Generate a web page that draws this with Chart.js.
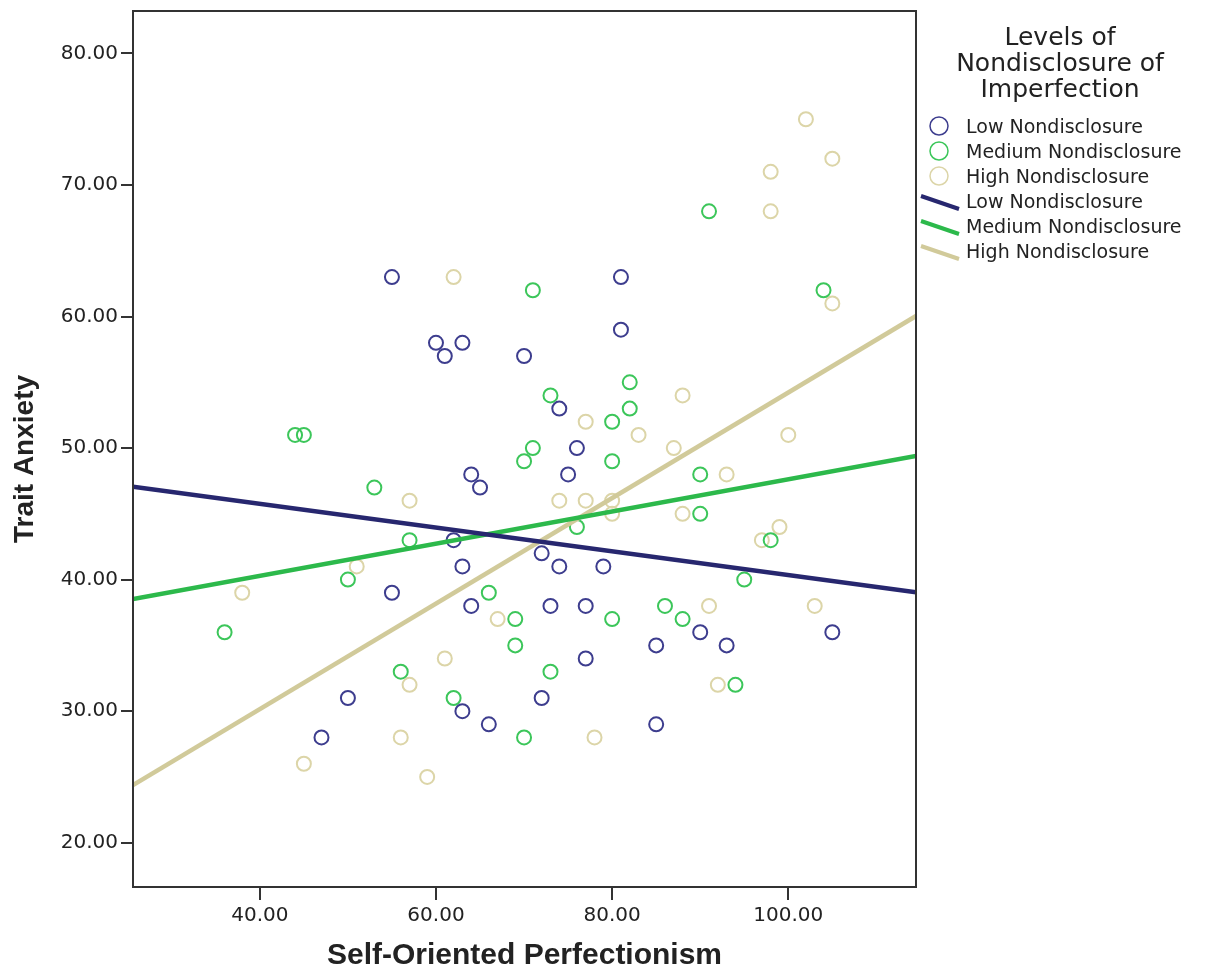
<!DOCTYPE html>
<html>
<head>
<meta charset="utf-8">
<script src="https://cdn.jsdelivr.net/npm/chart.js@4.4.1/dist/chart.umd.min.js"></script>
<style>
html, body { margin: 0; padding: 0; background: #fff; }
#wrap { width: 1211px; height: 974px; }
</style>
</head>
<body>
<div id="wrap"><canvas id="chart" width="1211" height="974"></canvas></div>
<script>
// series names and legend title
const seriesNames = ['Low Nondisclosure', 'Medium Nondisclosure', 'High Nondisclosure'];
const legendTitle = ['Levels of', 'Nondisclosure of', 'Imperfection'];
const xTitle = 'Self-Oriented Perfectionism';
const yTitle = 'Trait Anxiety';

// axis ticks
const xTicks = [40, 60, 80, 100];
const yTicks = [20, 30, 40, 50, 60, 70, 80];

// scatter points (x = self-oriented perfectionism, y = trait anxiety)
const lowX = [55, 60, 61, 63, 70, 81, 81, 74, 76, 75, 64, 65, 62, 72, 63, 74, 79, 55, 64, 73, 77, 77, 50, 47, 63, 66, 72, 85, 90, 93, 105, 85];
const lowY = [63, 58, 57, 58, 57, 63, 59, 53, 50, 48, 48, 47, 43, 42, 41, 41, 41, 39, 38, 38, 38, 34, 31, 28, 30, 29, 31, 35, 36, 35, 36, 29];

const medX = [71, 91, 104, 82, 73, 82, 80, 71, 70, 80, 90, 44, 45, 53, 57, 50, 66, 76, 90, 98, 95, 86, 80, 88, 69, 36, 69, 56, 73, 62, 70, 94];
const medY = [62, 68, 62, 55, 54, 53, 52, 50, 49, 49, 48, 51, 51, 47, 43, 40, 39, 44, 45, 43, 40, 38, 37, 37, 37, 36, 35, 33, 33, 31, 28, 32];

const highX = [102, 105, 98, 98, 62, 105, 88, 77, 83, 100, 87, 93, 57, 74, 77, 80, 80, 88, 99, 97, 51, 38, 91, 103, 67, 61, 57, 92, 56, 78, 45, 59];
const highY = [75, 72, 71, 68, 63, 61, 54, 52, 51, 51, 50, 48, 46, 46, 46, 46, 45, 45, 44, 43, 41, 39, 38, 38, 37, 34, 32, 32, 28, 28, 26, 25];

// fit lines, read at the two edges of the x range
const xRange = [25.6, 114.5];
const yRange = [16.63, 83.23];
const lowFit = [47.06, 39.03];
const medFit = [38.52, 49.41];
const highFit = [24.37, 60.04];

const pointColors = ['#3d3d8e', '#3cc65a', '#dcd5a8'];
const lineColors = ['#27276f', '#2cb94b', '#d1ca9a'];

function toPoints(xs, ys) {
    return xs.map((x, i) => ({ x: x, y: ys[i] }));
}

const scatterSets = [[lowX, lowY], [medX, medY], [highX, highY]].map((s, i) => ({
    type: 'scatter',
    label: seriesNames[i],
    data: toPoints(s[0], s[1]),
    borderColor: pointColors[i],
    backgroundColor: 'rgba(0,0,0,0)',
    pointRadius: 7,
    pointBorderWidth: 2,
    pointHoverRadius: 7,
    order: 2
}));

const lineSets = [lowFit, medFit, highFit].map((f, i) => ({
    type: 'line',
    label: seriesNames[i],
    data: toPoints(xRange, f),
    borderColor: lineColors[i],
    borderWidth: 4.5,
    pointRadius: 0,
    fill: false,
    order: 1
}));

const textColor = '#222';

// box around the plot, y title and the legend on the right
const framePlugin = {
    id: 'frame',
    afterDraw(chart) {
        const ctx = chart.ctx;
        const a = chart.chartArea;
        ctx.save();
        ctx.strokeStyle = '#333';
        ctx.lineWidth = 2;
        ctx.strokeRect(a.left, a.top, a.right - a.left, a.bottom - a.top);

        // y axis title
        ctx.save();
        ctx.translate(25, 459);
        ctx.rotate(-Math.PI / 2);
        ctx.fillStyle = textColor;
        ctx.font = 'bold 28px "Liberation Sans"';
        ctx.textAlign = 'center';
        ctx.textBaseline = 'middle';
        ctx.fillText(yTitle, 0, 0);
        ctx.restore();

        // legend title
        ctx.fillStyle = textColor;
        ctx.font = '25px "DejaVu Sans"';
        ctx.textAlign = 'center';
        ctx.textBaseline = 'middle';
        legendTitle.forEach((t, i) => ctx.fillText(t, 1060, 38 + i * 26));

        ctx.font = '19px "DejaVu Sans"';
        ctx.textAlign = 'left';
        let y = 128;
        seriesNames.forEach((name, i) => {
            ctx.beginPath();
            ctx.arc(939, y - 2, 9, 0, Math.PI * 2);
            ctx.strokeStyle = pointColors[i];
            ctx.lineWidth = 1.5;
            ctx.stroke();
            ctx.fillText(name, 966, y);
            y += 25;
        });
        seriesNames.forEach((name, i) => {
            ctx.beginPath();
            ctx.moveTo(921, y - 7);
            ctx.lineTo(959, y + 6);
            ctx.strokeStyle = lineColors[i];
            ctx.lineWidth = 4;
            ctx.stroke();
            ctx.fillText(name, 966, y);
            y += 25;
        });
        ctx.restore();
    }
};

new Chart(document.getElementById('chart'), {
    data: { datasets: scatterSets.concat(lineSets) },
    options: {
        responsive: false,
        animation: false,
        devicePixelRatio: 1,
        layout: { padding: { top: 11, right: 295, left: 0, bottom: 0 } },
        plugins: { legend: { display: false }, tooltip: { enabled: false } },
        scales: {
            x: {
                type: 'linear',
                min: xRange[0],
                max: xRange[1],
                afterBuildTicks: (s) => { s.ticks = xTicks.map(v => ({ value: v })); },
                afterFit: (s) => { s.height = 87; s.paddingLeft = 0; s.paddingRight = 0; },
                ticks: {
                    color: textColor,
                    font: { family: 'DejaVu Sans', size: 20 },
                    padding: 4,
                    maxRotation: 0,
                    callback: (v) => Number(v).toFixed(2)
                },
                grid: { display: true, drawOnChartArea: false, drawTicks: true, tickLength: 13, color: '#333', lineWidth: 2 },
                border: { display: true, color: '#333', width: 2 },
                title: {
                    display: true,
                    text: xTitle,
                    color: textColor,
                    font: { family: 'Liberation Sans', size: 30, weight: 'bold' },
                    padding: { top: 0, bottom: 0 }
                }
            },
            y: {
                type: 'linear',
                min: yRange[0],
                max: yRange[1],
                afterBuildTicks: (s) => { s.ticks = yTicks.map(v => ({ value: v })); },
                afterFit: (s) => { s.width = 133; s.paddingTop = 0; s.paddingBottom = 0; },
                ticks: {
                    color: textColor,
                    font: { family: 'DejaVu Sans', size: 20 },
                    padding: 3,
                    callback: (v) => Number(v).toFixed(2)
                },
                grid: { display: true, drawOnChartArea: false, drawTicks: true, tickLength: 12, color: '#333', lineWidth: 2 },
                border: { display: true, color: '#333', width: 2 },
                title: { display: false }
            }
        }
    },
    plugins: [framePlugin]
});
</script>
</body>
</html>
